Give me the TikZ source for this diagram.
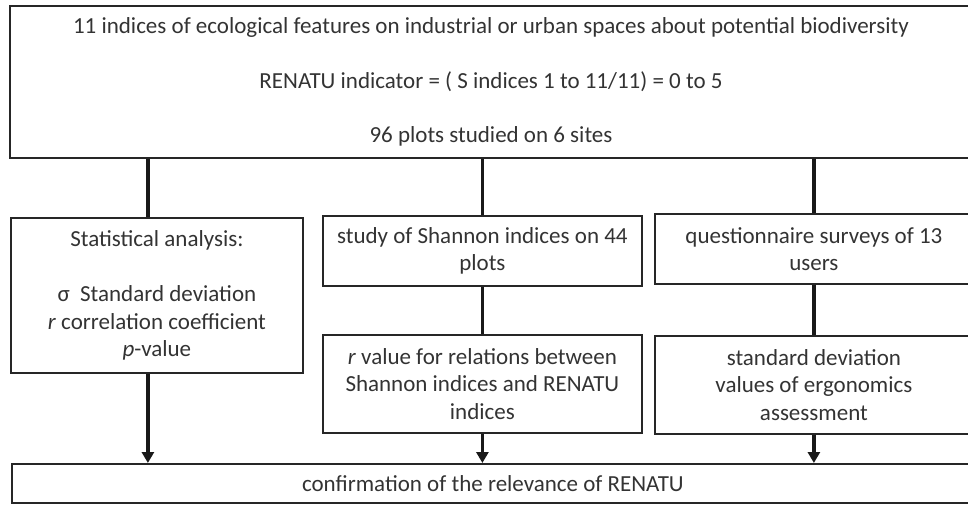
\documentclass[tikz,border=0pt]{standalone}
\usepackage{fontspec}
\setmainfont{Carlito}
\usepackage{tikz}
\usetikzlibrary{arrows.meta,positioning}

\begin{document}
\begin{tikzpicture}[x=1pt,y=1pt,>={Triangle[width=12pt,length=11pt]},
    box/.style={draw=black!85,line width=1.8pt,inner sep=0pt,align=center,text=black!80,
      font=\fontsize{23}{27.5}\selectfont},
    link/.style={draw=black!90,line width=3.6pt}]
    \useasboundingbox (0,0) rectangle (968,-504);

    \node (renatu) [box, minimum width=962pt, minimum height=152pt] at (491,-82)
      {11 indices of ecological features on industrial or urban spaces about potential biodiversity\\[27pt]
       RENATU indicator = ( S indices 1 to 11/11) = 0 to 5\\[27pt]
       96 plots studied on 6 sites};

    \node (stats) [box, anchor=north west, minimum width=292pt, minimum height=155pt] at (10,-217)
      {Statistical analysis:\\[27.5pt] σ\ \ Standard deviation\\ \textit{r} correlation coefficient\\ \textit{p}-value};
    \node (shannon) [box, anchor=north west, minimum width=319pt, minimum height=70pt] at (322,-215)
      {study of Shannon indices on 44\\ plots};
    \node (survey) [box, anchor=north west, minimum width=318pt, minimum height=70pt] at (654,-213)
      {questionnaire surveys of 13\\ users};

    \node (rvalue) [box, below=47pt of shannon, minimum width=319pt, minimum height=98pt]
      {\textit{r} value for relations between\\ Shannon indices and RENATU\\ indices};
    \node (stddev) [box, below=50pt of survey, minimum width=318pt, minimum height=98pt]
      {standard deviation\\ values of ergonomics\\ assessment};

    \node (confirm) [box, anchor=north west, minimum width=962pt, minimum height=39pt] at (11,-463)
      {confirmation of the relevance of RENATU};

    \draw[link] ([xshift=-9pt]stats.north |- renatu.south) -- ([xshift=-9pt]stats.north);
    \draw[link] (renatu.south -| shannon.north) -- (shannon.north);
    \draw[link] (renatu.south -| survey.north) -- (survey.north);

    \draw[link] (shannon) -- (rvalue);
    \draw[link] (survey) -- (stddev);

    \draw[link,->] ([xshift=-9pt]stats.south) -- ([xshift=-9pt]stats.south |- confirm.north);
    \draw[link,->] (rvalue.south) -- (rvalue.south |- confirm.north);
    \draw[link,->] (stddev.south) -- (stddev.south |- confirm.north);
\end{tikzpicture}
\end{document}
